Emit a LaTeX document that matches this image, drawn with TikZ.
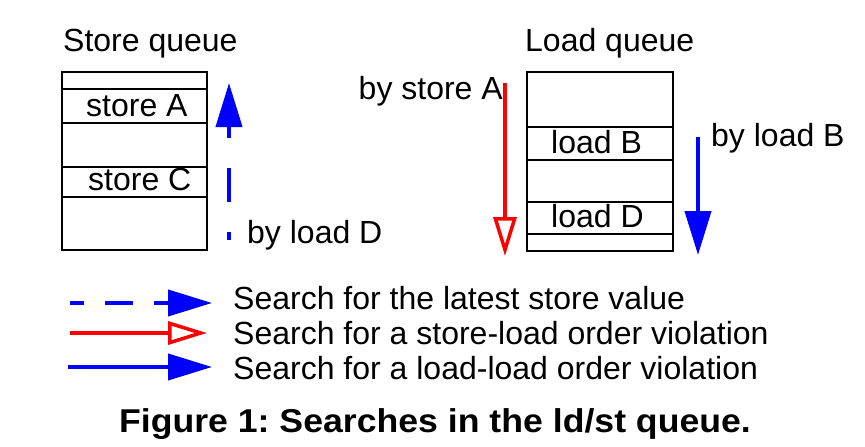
\documentclass[tikz,border=0pt]{standalone}
\usepackage{fontspec}
\setmainfont{Liberation Sans}
\usetikzlibrary{arrows.meta}
\usetikzlibrary{positioning}
\frenchspacing

\begin{document}
\begin{tikzpicture}[x=1pt, y=-1pt,
  every node/.style={font=\fontsize{32}{38}\selectfont, inner sep=0pt, anchor=base west},
  cell/.style={line width=1.6pt, black},
  solidhead/.style={-{Triangle[length=44pt, width=26pt]}},
  openhead/.style={-{Triangle[open, length=39pt, width=23pt, line width=3.5pt]}}]
\useasboundingbox (0,0) rectangle (865,447);

%store queue
\draw[cell] (62,72) rectangle (207,250);
\foreach \y in {89,123,167,197} \draw[cell] (62,\y) -- (206,\y);
\node (sq) at (63,51) {Store queue};
\node (stA) at (86,116) {store A};
\node (stC) at (88,190) {store C};

%load queue
\draw[cell] (527,72) rectangle (673,251);
\foreach \y in {127,160,202,234} \draw[cell] (527,\y) -- (673,\y);
\node (lq) at (525,51) {Load queue};
\node (ldB) at (551,153) {load B};
\node (ldD) at (551,227) {load D};

%search arrows
\coordinate (s1) at (229,240);
\coordinate (s2) at (229,83);
\draw[solidhead, line width=4pt, blue, dash pattern=on 34pt off 30pt, dash phase=26pt] (s1) -- (s2);
\node (byD) at (247,243) {by load D};

\coordinate (r1) at (505,83);
\coordinate (r2) at (505,256);
\draw[openhead, line width=3.6pt, red] (r1) -- (r2);
\node[anchor=base east] (byA) at (503,99) {by store A};

\coordinate (b1) at (698,137);
\coordinate (b2) at (698,255);
\draw[solidhead, line width=4pt, blue] (b1) -- (b2);
\node (byB) at (711,146) {by load B};

%legend
\coordinate (k1) at (70,303);
\coordinate (k2) at (212,303);
\coordinate (k3) at (70,333);
\coordinate (k4) at (207,333);
\coordinate (k5) at (68,367);
\coordinate (k6) at (212,367);
\draw[solidhead, line width=4pt, blue, dash pattern=on 28pt off 21pt, dash phase=14pt] (k1) -- (k2);
\draw[openhead, line width=3.6pt, red] (k3) -- (k4);
\draw[solidhead, line width=4pt, blue] (k5) -- (k6);
\node (t1) at (233,309) {Search for the latest store value};
\node (t2) at (233,344) {Search for a store-load order violation};
\node (t3) at (233,379) {Search for a load-load order violation};

%caption
\node[anchor=base, font=\fontsize{33}{38}\selectfont\bfseries, xscale=1.08] (cap) at (435,432) {Figure 1: Searches in the ld/st queue.};

\end{tikzpicture}
\end{document}
